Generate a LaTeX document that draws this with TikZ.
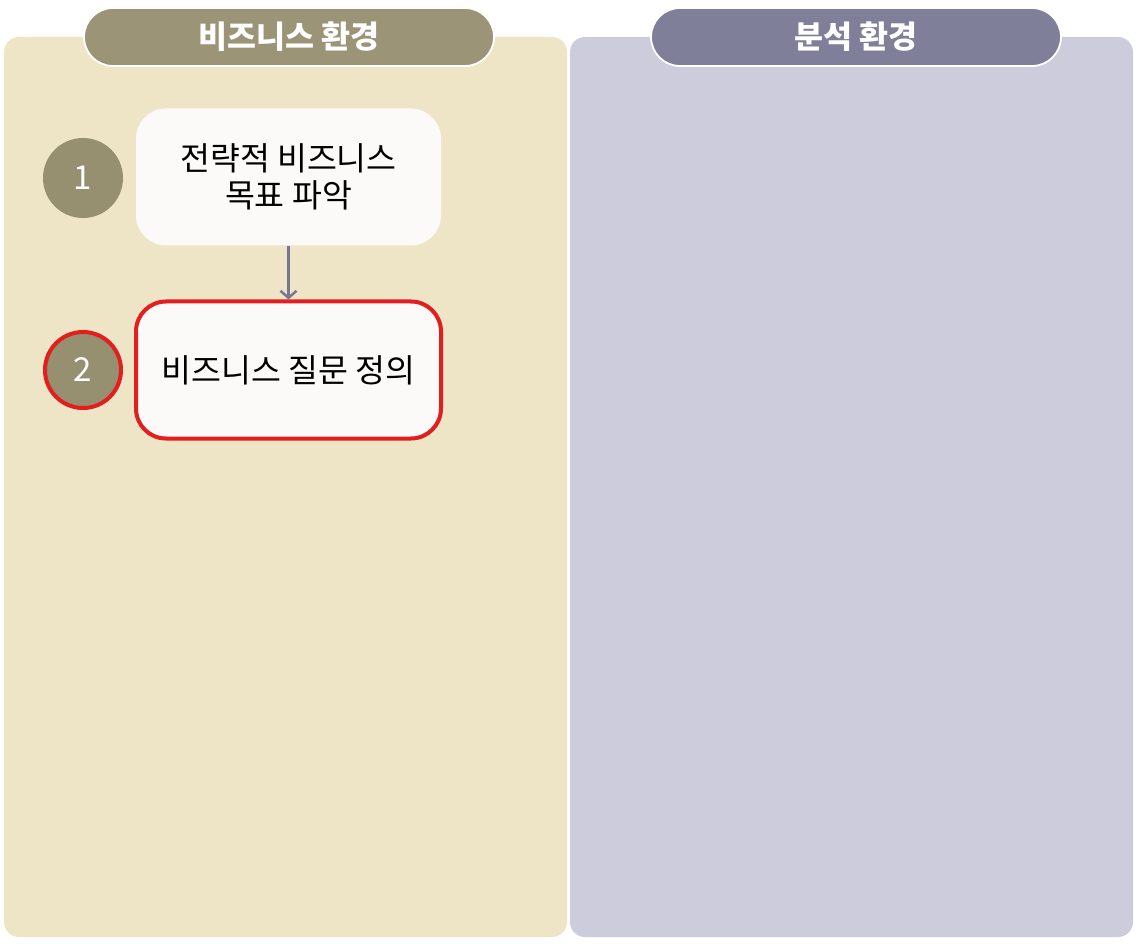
\documentclass[tikz,border=0pt]{standalone}
\usepackage{fontspec}
\setmainfont{Noto Sans CJK KR}
\usetikzlibrary{arrows.meta}
\definecolor{panelL}{RGB}{237,229,198}
\definecolor{panelR}{RGB}{205,204,221}
\definecolor{headL}{RGB}{155,148,118}
\definecolor{headR}{RGB}{127,127,154}
\definecolor{circ}{RGB}{150,143,112}
\definecolor{boxw}{RGB}{251,250,248}
\definecolor{redb}{RGB}{226,30,30}
\definecolor{arr}{RGB}{120,118,145}
\tikzset{
  panel/.style={draw=none, rounded corners=15pt, minimum width=563pt, minimum height=900pt, inner sep=0pt},
  header/.style={draw=white, line width=1.8pt, rounded corners=29pt, minimum width=410pt, minimum height=58pt, inner sep=0pt, text=white, font=\bfseries\fontsize{31.5}{36}\selectfont},
  stepbox/.style={fill=boxw, rounded corners=30pt, minimum width=305pt, minimum height=137pt, inner sep=0pt, align=center, font=\fontsize{32.5}{37}\selectfont},
  numcirc/.style={circle, fill=circ, minimum size=80pt, inner sep=0pt, text=white, font=\fontsize{33}{36}\selectfont},
  hl/.style={draw=redb, line width=4pt},
  flow/.style={draw=arr, line width=2.5pt, -{Straight Barb[length=7pt,width=16pt]}}
}
\begin{document}
\begin{tikzpicture}[x=1pt,y=-1pt]
\useasboundingbox[fill=white] (0,0) rectangle (1136,944);
\node[panel, fill=panelL] (pL) at (285.5,487) {};
\node[panel, fill=panelR] (pR) at (851.5,487) {};
\node[header, fill=headL] (hL) at (289,37) {비즈니스 환경};
\node[header, fill=headR] (hR) at (856,37) {분석 환경};
\node[stepbox] (s1) at (288.5,177) {전략적 비즈니스\\목표 파악};
\node[stepbox, hl] (s2) at (288.5,370) {비즈니스 질문 정의};
\node[numcirc] (c1) at (83,178) {1};
\node[numcirc, hl, minimum size=76pt] (c2) at (83,370) {2};
\draw[flow] (s1.south) -- (s2.north);
\end{tikzpicture}
\end{document}
